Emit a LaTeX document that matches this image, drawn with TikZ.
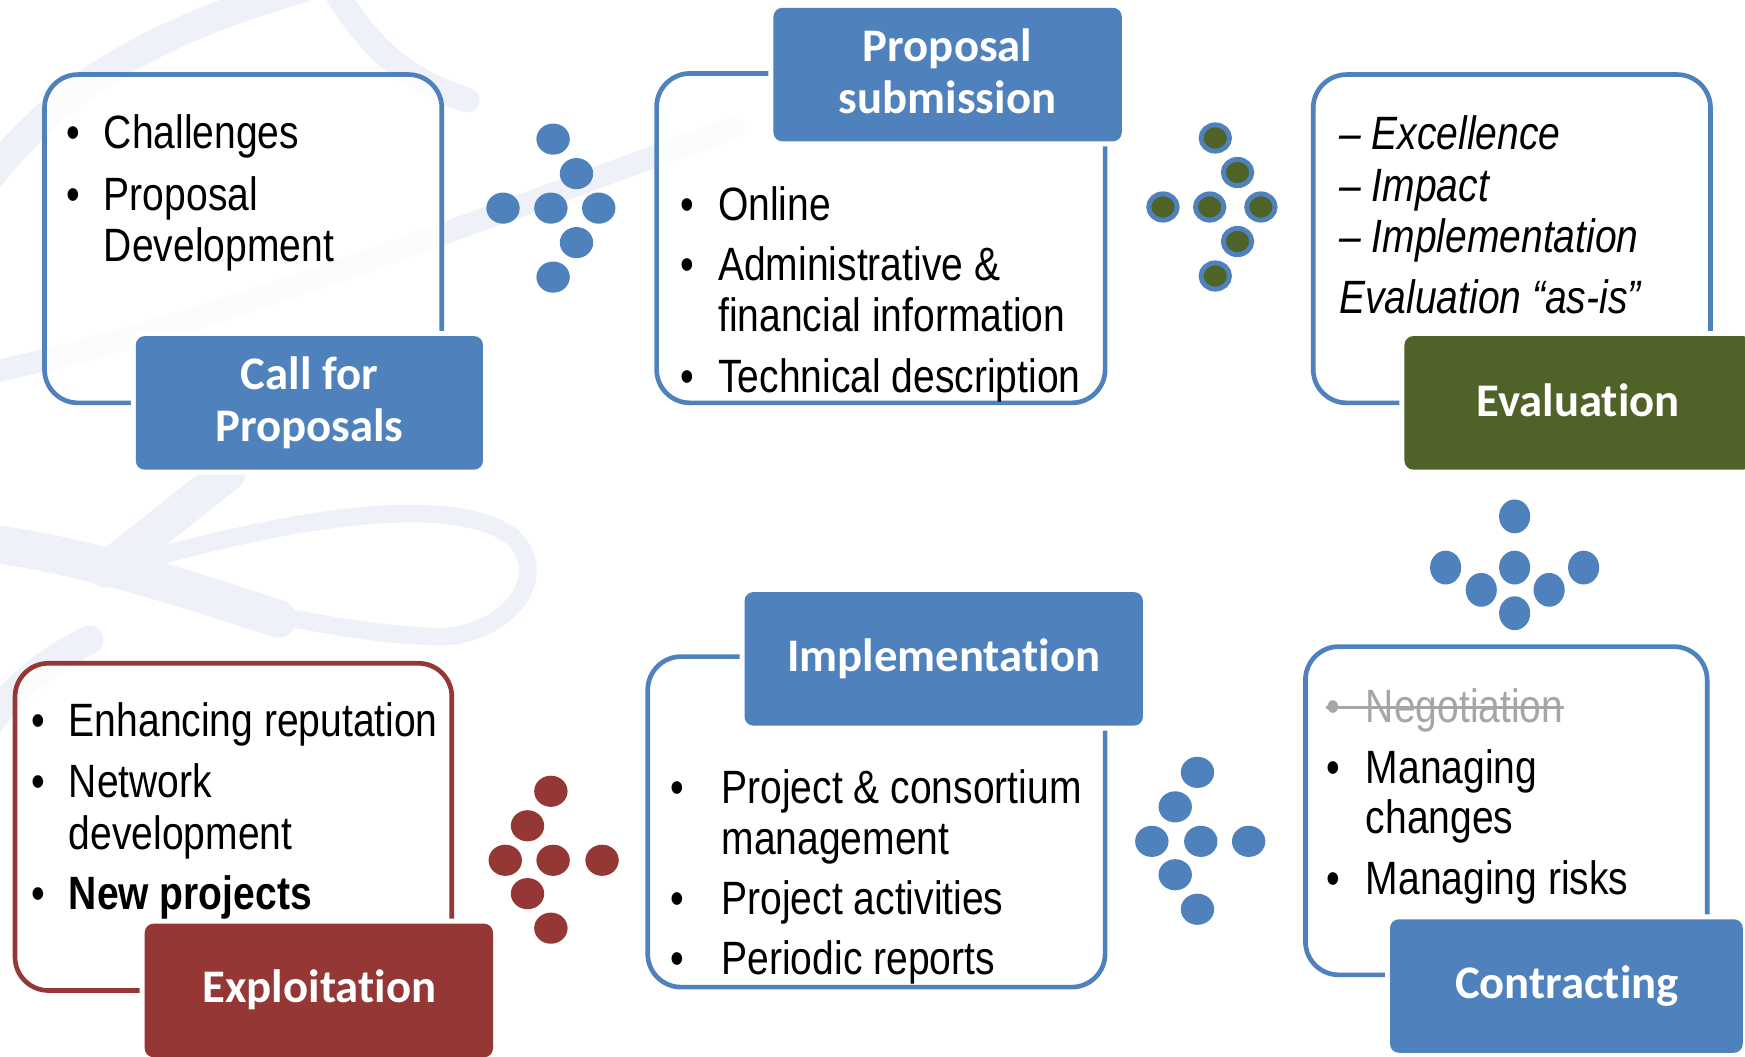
\documentclass[tikz,border=0pt]{standalone}
\usepackage{fontspec}
\setmainfont{Liberation Sans}[FakeStretch=0.835]
\newfontfamily\tagfont{Carlito}[Ligatures=NoCommon]
\definecolor{boxblue}{HTML}{4F81BD}
\definecolor{boxgreen}{HTML}{4F6228}
\definecolor{boxred}{HTML}{953735}
\definecolor{struck}{HTML}{A6A6A6}
\definecolor{swirl}{HTML}{EEF1F8}

\tikzset{
  frame/.style={line width=2.1pt, rounded corners=15pt, fill=white, fill opacity=0.85},
  tag/.style={rounded corners=4pt, minimum height=60pt, inner sep=0pt,
    preaction={draw=white, line width=4.5pt}},
  tagtext/.style={text=white, font=\tagfont\bfseries\fontsize{21}{23}\selectfont,
    inner sep=0pt, anchor=base},
  item/.style={font=\fontsize{21}{23}\selectfont, inner sep=0pt, anchor=base west},
  bul/.style={font=\fontsize{21}{23}\selectfont, inner sep=0pt, anchor=base},
  band/.style={draw=swirl, line cap=round},
  bluedot/.style={fill=boxblue},
  reddot/.style={fill=boxred},
  greendot/.style={fill=boxgreen, draw=boxblue, line width=2.2pt},
}

\begin{document}
\begin{tikzpicture}[x=0.5pt, y=-0.5pt]
\useasboundingbox (0,0) rectangle (1568,949);
\clip (0,0) rectangle (1568,949);

% faint ribbon swirls in the background
\draw[band, line width=13pt] (-10,160) .. controls (60,70) and (150,25) .. (270,-10);
\draw[band, line width=10pt] (-10,335) .. controls (200,290) and (420,200) .. (660,115);
\draw[band, line width=17pt] (-10,488) .. controls (80,500) and (170,530) .. (250,556);
\draw[band, line width=8pt] (130,503) .. controls (250,470) and (400,440) .. (460,482)
  .. controls (500,520) and (450,575) .. (390,572) .. controls (330,570) and (280,558) .. (240,552);
\draw[band, line width=16pt] (205,425) -- (95,512);
\draw[band, line width=13pt] (-10,650) .. controls (20,610) and (50,590) .. (80,575);
\draw[band, line width=11pt] (300,-10) .. controls (330,40) and (360,70) .. (420,90);

% outlined boxes
\draw[frame, draw=boxblue] (40,67) rectangle (397,362);
\draw[frame, draw=boxblue] (590,66) rectangle (993,362);
\draw[frame, draw=boxblue] (1180,67) rectangle (1537,362);
\draw[frame, draw=boxblue] (1173,581) rectangle (1534,876);
\draw[frame, draw=boxblue] (582,590) rectangle (993,887);
\draw[frame, draw=boxred] (13.5,596) rectangle (406,890);

% title tags
\node[tag, fill=boxblue, minimum width=156pt] (cfptag) at (278,362) {};
\node[tag, fill=boxblue, minimum width=156.5pt] (subtag) at (851.5,67) {};
\node[tag, fill=boxgreen, minimum width=156pt] (evaltag) at (1418,362) {};
\node[tag, fill=boxblue, minimum width=158.5pt] (contag) at (1407.5,886) {};
\node[tag, fill=boxblue, minimum width=179pt] (imptag) at (848,592) {};
\node[tag, fill=boxred, minimum width=156.5pt] (exptag) at (286.5,890) {};

\node[tagtext] (cfpa) at (278,350) {Call for};
\node[tagtext] (cfpb) at (278,397) {Proposals};
\node[tagtext] (suba) at (851.5,55.5) {Proposal};
\node[tagtext] (subb) at (851.5,102) {submission};
\node[tagtext] (evala) at (1418,374) {Evaluation};
\node[tagtext] (cona) at (1408,897) {Contracting};
\node[tagtext] (impa) at (848,603) {Implementation};
\node[tagtext] (expa) at (287,901) {Exploitation};

% Call for proposals
\node[bul] (cb1) at (66,133) {•};
\node[item] (ct1) at (93,133) {Challenges};
\node[bul] (cb2) at (66,189) {•};
\node[item] (ct2) at (93,189) {Proposal};
\node[item] (ct3) at (93,235) {Development};

% Proposal submission
\node[bul] (sb1) at (618,198) {•};
\node[item] (st1) at (645,198) {Online};
\node[bul] (sb2) at (618,252) {•};
\node[item] (st2) at (645,252) {Administrative \&};
\node[item] (st3) at (645,298) {financial information};
\node[bul] (sb3) at (618,353) {•};
\node[item] (st4) at (645,353) {Technical description};

% Evaluation
\node[item] (et1) at (1203,134) {\itshape – Excellence};
\node[item] (et2) at (1203,181) {\itshape – Impact};
\node[item] (et3) at (1203,227) {\itshape – Implementation};
\node[item] (et4) at (1203,282) {\itshape Evaluation “as-is”};

% Contracting
\node[bul, text=struck] (kb1) at (1198,649) {•};
\node[item, text=struck] (kt1) at (1227,649) {Negotiation};
\coordinate (strikey) at (0,636);
\draw[struck, line width=1.2pt] (kb1.west |- strikey) -- (kt1.east |- strikey);
\node[bul] (kb2) at (1198,704) {•};
\node[item] (kt2) at (1227,704) {Managing};
\node[item] (kt3) at (1227,749) {changes};
\node[bul] (kb3) at (1198,804) {•};
\node[item] (kt4) at (1227,804) {Managing risks};

% Implementation
\node[bul] (ib1) at (609,722) {•};
\node[item] (it1) at (648,722) {Project \& consortium};
\node[item] (it2) at (648,768) {management};
\node[bul] (ib2) at (609,822) {•};
\node[item] (it3) at (648,822) {Project activities};
\node[bul] (ib3) at (609,876) {•};
\node[item] (it4) at (648,876) {Periodic reports};

% Exploitation
\node[bul] (xb1) at (34,662) {•};
\node[item] (xt1) at (61.5,662) {Enhancing reputation};
\node[bul] (xb2) at (34,717) {•};
\node[item] (xt2) at (61.5,717) {Network};
\node[item] (xt3) at (61.5,763) {development};
\node[bul] (xb3) at (34,817) {•};
\node[item] (xt4) at (61.5,817) {\bfseries New projects};

% dotted arrows between the stages
\foreach \p in {(497,125),(518,156),(452,187),(495,187),(538,187),(518,218),(497,249)}
  \path[bluedot] \p ellipse [x radius=7.5pt, y radius=7pt];
\foreach \p in {(1092,124),(1112,155),(1045,186),(1087,186),(1133,186),(1112,217),(1092,248)}
  \path[greendot] \p ellipse [x radius=6.4pt, y radius=5.9pt];
\foreach \p in {(1361,464),(1299,510),(1361,510),(1423,510),(1331,530),(1392,530),(1361,551)}
  \path[bluedot] \p ellipse [x radius=7pt, y radius=7.6pt];
\foreach \p in {(1076,694),(1056,725),(1035,756),(1079,756),(1122,756),(1056,786),(1076,817)}
  \path[bluedot] \p ellipse [x radius=7.5pt, y radius=7pt];
\foreach \p in {(495,711),(474,742),(454,773),(497,773),(541,773),(474,803),(495,834)}
  \path[reddot] \p ellipse [x radius=7.5pt, y radius=7pt];
\end{tikzpicture}
\end{document}
